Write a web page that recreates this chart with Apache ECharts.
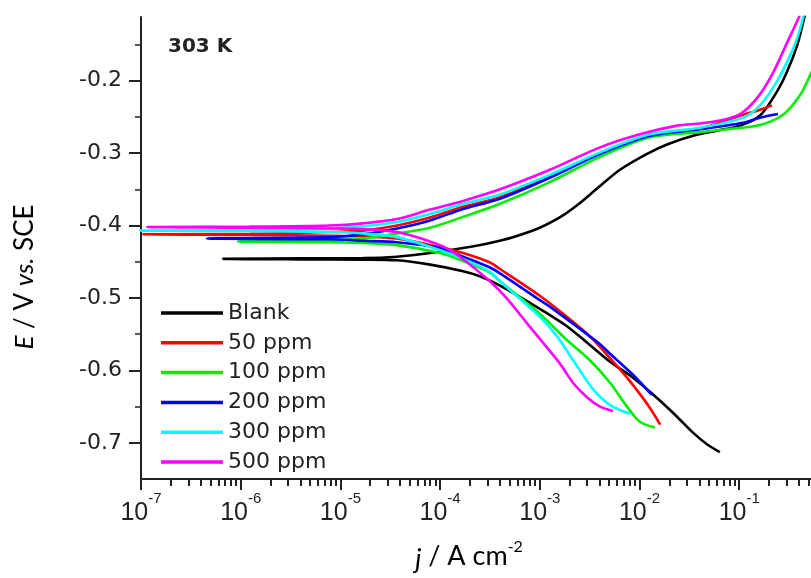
<!DOCTYPE html>
<html><head><meta charset="utf-8">
<script src="https://cdn.jsdelivr.net/npm/echarts@6/dist/echarts.min.js"></script>
<style>html,body{margin:0;padding:0;background:#fff}#c{width:811px;height:578px}</style>
</head><body><div id="c"></div><script>
// ---- data: [current density (A cm^-2), potential (V vs SCE)] ----
const seriesNames = ['Blank', '50 ppm', '100 ppm', '200 ppm', '300 ppm', '500 ppm'];
const seriesColors = ['#000000', '#ff0000', '#00ee00', '#0000ff', '#00ffff', '#ff00ff'];

const blank = [[6.4e-2,-0.713],[4.75e-2,-0.702],[3.44e-2,-0.686],[2.38e-2,-0.664],[1.61e-2,-0.642],[1.19e-2,-0.626],[8.04e-3,-0.607],[5.06e-3,-0.588],[3.18e-3,-0.565],[1.87e-3,-0.539],[1.00e-3,-0.515],[3.99e-4,-0.483],[2.51e-4,-0.470],[1.70e-4,-0.463],[7.93e-5,-0.454],[3.70e-5,-0.448],[1.69e-5,-0.447],[3.94e-6,-0.4467],[6.63e-7,-0.446],[3.94e-6,-0.4453],[1.69e-5,-0.445],[3.70e-5,-0.443],[7.93e-5,-0.438],[1.70e-4,-0.431],[3.16e-4,-0.424],[5.38e-4,-0.416],[1.00e-3,-0.403],[1.71e-3,-0.386],[2.53e-3,-0.369],[3.75e-3,-0.349],[6.37e-3,-0.323],[1.19e-2,-0.301],[1.89e-2,-0.288],[3.44e-2,-0.276],[5.98e-2,-0.269],[0.102,-0.262],[0.162,-0.248],[0.239,-0.215],[0.301,-0.188],[0.380,-0.152],[0.437,-0.120],[0.468,-0.102]];

const ppm50 = [[1.61e-2,-0.675],[1.36e-2,-0.658],[1.08e-2,-0.638],[7.50e-3,-0.610],[5.06e-3,-0.583],[3.18e-3,-0.553],[1.87e-3,-0.526],[1.00e-3,-0.497],[3.99e-4,-0.460],[3.16e-4,-0.451],[1.70e-4,-0.438],[9.98e-5,-0.430],[3.70e-5,-0.418],[1.69e-5,-0.415],[7.87e-6,-0.414],[1.24e-6,-0.413],[1.05e-7,-0.412],[1.24e-6,-0.4115],[7.87e-6,-0.409],[1.69e-5,-0.407],[3.70e-5,-0.400],[7.93e-5,-0.389],[1.70e-4,-0.374],[3.99e-4,-0.361],[1.26e-3,-0.332],[4.02e-3,-0.300],[1.27e-2,-0.276],[4.05e-2,-0.266],[0.109,-0.247],[0.162,-0.240],[0.213,-0.234]];

const ppm100 = [[1.43e-2,-0.679],[1.01e-2,-0.671],[7.50e-3,-0.650],[5.06e-3,-0.617],[3.18e-3,-0.586],[1.87e-3,-0.558],[1.00e-3,-0.522],[3.99e-4,-0.477],[3.16e-4,-0.465],[1.70e-4,-0.449],[9.98e-5,-0.438],[3.70e-5,-0.427],[1.69e-5,-0.424],[7.87e-6,-0.423],[9.40e-7,-0.422],[7.87e-6,-0.420],[1.69e-5,-0.418],[3.70e-5,-0.411],[7.93e-5,-0.403],[1.70e-4,-0.388],[3.99e-4,-0.370],[1.26e-3,-0.340],[4.02e-3,-0.305],[1.27e-2,-0.278],[4.05e-2,-0.271],[7.55e-2,-0.267],[0.162,-0.261],[0.275,-0.247],[0.407,-0.220],[0.513,-0.193],[0.575,-0.177]];

const ppm200 = [[1.33e-2,-0.634],[8.6e-3,-0.606],[5.06e-3,-0.577],[4.02e-3,-0.564],[3.18e-3,-0.553],[1.26e-3,-0.512],[1.00e-3,-0.503],[3.99e-4,-0.466],[3.16e-4,-0.458],[1.70e-4,-0.443],[9.98e-5,-0.431],[3.70e-5,-0.423],[1.69e-5,-0.421],[7.87e-6,-0.419],[4.59e-7,-0.418],[7.87e-6,-0.416],[1.69e-5,-0.412],[3.70e-5,-0.404],[7.93e-5,-0.393],[1.70e-4,-0.377],[3.99e-4,-0.363],[1.26e-3,-0.334],[4.02e-3,-0.301],[1.27e-2,-0.276],[4.05e-2,-0.267],[0.109,-0.258],[0.162,-0.251],[0.245,-0.246]];

const ppm300 = [[8.04e-3,-0.660],[5.06e-3,-0.648],[3.42e-3,-0.626],[2.36e-3,-0.594],[1.49e-3,-0.553],[1.00e-3,-0.526],[3.99e-4,-0.477],[3.16e-4,-0.464],[1.70e-4,-0.446],[9.98e-5,-0.434],[3.70e-5,-0.416],[1.69e-5,-0.411],[7.87e-6,-0.409],[1.24e-6,-0.4075],[9.8e-8,-0.407],[1.24e-6,-0.406],[7.87e-6,-0.404],[1.69e-5,-0.401],[3.70e-5,-0.395],[7.93e-5,-0.384],[1.70e-4,-0.370],[3.99e-4,-0.357],[1.26e-3,-0.330],[4.02e-3,-0.299],[1.27e-2,-0.274],[4.05e-2,-0.265],[0.109,-0.251],[0.162,-0.234],[0.239,-0.201],[0.347,-0.156],[0.407,-0.129],[0.457,-0.102]];

const ppm500 = [[5.42e-3,-0.656],[4.02e-3,-0.650],[2.97e-3,-0.637],[2.15e-3,-0.617],[1.60e-3,-0.591],[1.08e-3,-0.562],[7.45e-4,-0.535],[4.69e-4,-0.501],[3.16e-4,-0.477],[2.00e-4,-0.454],[1.26e-4,-0.434],[7.93e-5,-0.422],[3.70e-5,-0.409],[1.69e-5,-0.405],[7.87e-6,-0.404],[1.24e-6,-0.403],[1.15e-7,-0.402],[1.24e-6,-0.4015],[7.87e-6,-0.400],[1.69e-5,-0.397],[3.70e-5,-0.391],[7.93e-5,-0.378],[1.70e-4,-0.366],[3.99e-4,-0.350],[1.26e-3,-0.323],[4.02e-3,-0.292],[1.01e-2,-0.274],[2.38e-2,-0.262],[4.05e-2,-0.259],[6.4e-2,-0.255],[0.102,-0.246],[0.151,-0.224],[0.213,-0.192],[0.301,-0.148],[0.398,-0.112],[0.437,-0.096]];

const seriesData = [blank, ppm50, ppm100, ppm200, ppm300, ppm500];

// ---- axes ----
const xMin = 1e-7, xMax = 0.525;
const yMin = -0.75, yMax = -0.112;
const xMajorTicks = [1e-7, 1e-6, 1e-5, 1e-4, 1e-3, 1e-2, 1e-1];
const xMinorTickValues = [
  2e-7, 3e-7, 4e-7, 5e-7, 6e-7, 7e-7, 8e-7, 9e-7,
  2e-6, 3e-6, 4e-6, 5e-6, 6e-6, 7e-6, 8e-6, 9e-6,
  2e-5, 3e-5, 4e-5, 5e-5, 6e-5, 7e-5, 8e-5, 9e-5,
  2e-4, 3e-4, 4e-4, 5e-4, 6e-4, 7e-4, 8e-4, 9e-4,
  2e-3, 3e-3, 4e-3, 5e-3, 6e-3, 7e-3, 8e-3, 9e-3,
  2e-2, 3e-2, 4e-2, 5e-2, 6e-2, 7e-2, 8e-2, 9e-2,
  0.2, 0.3, 0.4, 0.5
];
const yMajorTicks = [-0.7, -0.6, -0.5, -0.4, -0.3, -0.2];
const yMinorTicks = [-0.65, -0.55, -0.45, -0.35, -0.25, -0.15];
const panelLabel = '303 K';
const axisColor = '#222';
const fontSans = 'DejaVu Sans';

const chart = echarts.init(document.getElementById('c'));

const curveSeries = seriesNames.map(function (name, idx) {
  return {
    name: name, type: 'line', data: seriesData[idx],
    xAxisIndex: 0, yAxisIndex: 0,
    symbol: 'none', smooth: 0.3, clip: true,
    color: seriesColors[idx],
    lineStyle: { color: seriesColors[idx], width: 2.6 }
  };
});

const yTitle = {
  type: 'text', id: 'ytitle', x: 25, y: 277, rotation: Math.PI / 2,
  style: {
    text: '{i|E} / V {i|vs.} SCE', align: 'center', verticalAlign: 'middle',
    fontFamily: 'Lato', fontSize: 26, fill: '#000',
    rich: { i: { fontFamily: 'Lato', fontStyle: 'italic', fontSize: 26, fill: '#000' } }
  }
};

chart.setOption({
  animation: false,
  backgroundColor: '#ffffff',
  title: {
    text: panelLabel, left: 163, top: 32,
    textStyle: { fontFamily: fontSans, fontWeight: 'bold', fontSize: 20, color: axisColor }
  },
  grid: { left: 141, width: 670, top: 17, height: 472, containLabel: false },
  legend: {
    orient: 'vertical', left: 156, top: 297,
    icon: 'rect', itemWidth: 62, itemHeight: 3.5, itemGap: 7.8,
    data: seriesNames,
    textStyle: { fontFamily: fontSans, fontSize: 22, color: axisColor, lineHeight: 20 }
  },
  xAxis: [{
    type: 'log', logBase: 10, min: xMin, max: xMax, position: 'bottom',
    axisLine: { show: true, lineStyle: { color: axisColor, width: 2 } },
    axisTick: { show: true, length: 11, customValues: xMajorTicks, lineStyle: { color: axisColor, width: 2 } },
    splitLine: { show: false },
    axisLabel: {
      customValues: xMajorTicks, margin: 17,
      formatter: function (v) { return '{b|10}{s|' + Math.round(Math.log10(v)) + '}'; },
      rich: {
        b: { fontFamily: 'Liberation Sans', fontSize: 25, color: axisColor, lineHeight: 30, verticalAlign: 'bottom' },
        s: { fontFamily: 'Liberation Sans', fontSize: 15, color: axisColor, lineHeight: 15, verticalAlign: 'bottom', padding: [0, 0, 20, 0] }
      }
    },
    name: '{i|j} / A cm{s|-2}', nameLocation: 'middle', nameGap: 60, nameMoveOverlap: false,
    nameTextStyle: {
      padding: [0, 14, 0, 0],
      rich: {
        i: { fontFamily: 'Lato', fontStyle: 'italic', fontSize: 27, color: '#000', lineHeight: 34, verticalAlign: 'bottom' },
        s: { fontFamily: 'Lato', fontSize: 16, color: '#000', lineHeight: 16, verticalAlign: 'bottom', padding: [0, 0, 18, 0] }
      },
      fontFamily: 'Lato', fontSize: 27, color: '#000', lineHeight: 34
    }
  }],
  yAxis: [{
    type: 'value', min: yMin, max: yMax, position: 'left',
    axisLine: { show: true, lineStyle: { color: axisColor, width: 2 } },
    axisTick: { show: true, length: 12, customValues: yMajorTicks, lineStyle: { color: axisColor, width: 2 } },
    splitLine: { show: false },
    axisLabel: {
      customValues: yMajorTicks, margin: 19,
      formatter: function (v) { return v.toFixed(1); },
      fontFamily: fontSans, fontSize: 22, color: axisColor
    }
  }, {
    type: 'value', min: yMin, max: yMax, position: 'left',
    axisLine: { show: false },
    axisTick: { show: true, length: 6, customValues: yMinorTicks, lineStyle: { color: axisColor, width: 1.5 } },
    axisLabel: { show: false }, splitLine: { show: false }
  }],
  graphic: [yTitle],
  series: curveSeries
});

// minor log ticks of the x axis: positions come from the chart's own scales
const minorTickElements = [];
xMinorTickValues.forEach(function (v, i) {
  const p = chart.convertToPixel({ gridIndex: 0 }, [v, yMin]);
  if (p && isFinite(p[0]) && isFinite(p[1])) {
    minorTickElements.push({
      type: 'rect', id: 'xminor' + i, silent: true, z: 100,
      shape: { x: Math.round(p[0]) - 1, y: Math.round(p[1]), width: 2, height: 7 },
      style: { fill: axisColor }
    });
  }
});
chart.setOption({ graphic: [yTitle].concat(minorTickElements) });
</script></body></html>
